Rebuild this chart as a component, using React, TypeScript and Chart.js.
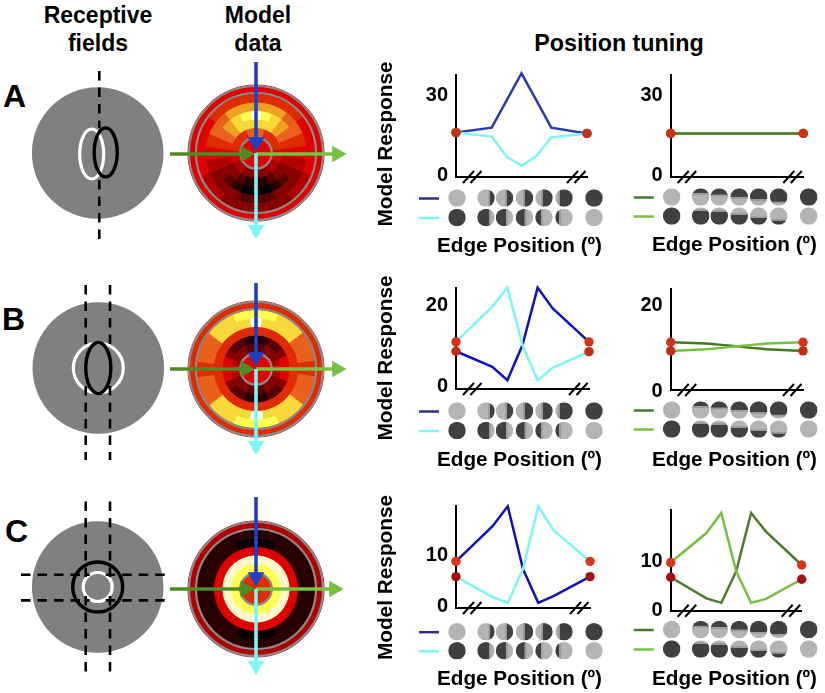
import React, { useEffect, useRef } from "react";
import { Chart, registerables } from "chart.js";

Chart.register(...registerables);

const FONT = '"Liberation Sans", Arial, sans-serif';

// ---------- Position tuning data ----------
const edgePositions = [-2.2, -1, -0.5, 0, 0.5, 1, 2.2];
const aBlue = [15.9, 17.75, 28, 38.1, 28, 17.75, 15.6];
const aCyan = [15.9, 14.4, 6.9, 3.5, 7.1, 14.1, 15.6];
const aDarkGreen = [15.6, 15.6, 15.6, 15.6, 15.6, 15.6, 15.6];
const aLightGreen = [15.6, 15.6, 15.6, 15.6, 15.6, 15.6, 15.6];
const bBlue = [8.7, 4.9, 1.6, 10.2, 24.3, 19.2, 11];
const bCyan = [11, 19.6, 24.3, 10.2, 1.6, 4.65, 8.6];
const bDarkGreen = [11.5, 11.2, 10.9, 10.6, 10.2, 9.9, 9.5];
const bLightGreen = [9.5, 9.9, 10.2, 10.6, 10.9, 11.2, 11.5];
const cBlue = [8.9, 15.8, 19.7, 7.4, 0.77, 2.06, 5.9];
const cCyan = [5.9, 1.9, 0.77, 7.4, 19.7, 15, 8.9];
const cDarkGreen = [6.8, 2.5, 1.6, 8, 19.9, 16.1, 9.3];
const cLightGreen = [9.8, 15.8, 19.9, 8, 1.6, 2.4, 6.4];

// edge location across each disc, as a share of its diameter
const verticalEdgesTop = [0.72, 0.62, 0.5, 0.42, 0.25];
const verticalEdgesBottom = [0.7, 0.6, 0.52, 0.35, 0.25];
const horizontalEdgesTop = [0.3, 0.38, 0.52, 0.65, 0.78];
const horizontalEdgesBottom = [0.2, 0.25, 0.42, 0.6, 0.75];

// ---------- Model data heat levels: rings outer to inner, sectors clockwise from top ----------
const heatPalette = ["#000000", "#280000", "#580000", "#860000", "#b00000", "#e00000", "#e02a00", "#e8601a", "#f0a020", "#f8d838", "#ffff50", "#ffffff", "#fff8c8"];
const heatA = [
  [5,5,5,5,5,5,5,5,5,5,5,5,5,5,5,5,5,5,5,5,5,5,5,5],
  [6,6,6,6,5,5,5,5,4,4,3,3,3,3,3,4,4,5,5,5,5,6,6,6],
  [8,8,8,7,7,6,5,4,3,3,3,2,2,2,3,3,3,4,5,6,7,7,8,8],
  [11,10,9,8,7,6,5,4,3,2,1,0,0,0,1,2,3,4,5,6,7,8,9,10],
  [9,9,9,8,7,6,5,4,3,3,2,1,1,1,2,3,3,4,5,6,7,8,9,9],
  [7,7,6,6,6,6,5,5,4,4,3,3,3,3,3,4,4,5,5,6,6,6,6,7],
  [5,5,5,5,5,5,5,5,5,5,5,5,5,5,5,5,5,5,5,5,5,5,5,5],
  [5,5,5,5,5,5,5,5,5,5,5,5,5,5,5,5,5,5,5,5,5,5,5,5],
];
const heatB = [
  [6,6,6,6,6,6,6,6,6,6,6,6,6,6,6,6,6,6,6,6,6,6,6,6],
  [10,10,9,9,7,7,6,7,7,9,9,10,10,10,9,9,7,7,6,7,7,9,9,10],
  [11,9,9,9,7,7,6,7,7,9,9,9,11,9,9,9,7,7,6,7,7,9,9,9],
  [6,6,6,6,6,6,6,6,6,6,6,6,6,6,6,6,6,6,6,6,6,6,6,6],
  [1,1,2,2,3,5,5,5,3,2,2,1,1,1,2,2,3,5,5,5,3,2,2,1],
  [2,2,3,3,3,4,5,4,3,3,3,2,2,2,3,3,3,4,5,4,3,3,3,2],
  [5,5,5,5,5,5,5,5,5,5,5,5,5,5,5,5,5,5,5,5,5,5,5,5],
  [5,5,5,5,5,5,5,5,5,5,5,5,5,5,5,5,5,5,5,5,5,5,5,5],
];
const heatC = [
  [4,4,4,4,4,4,4,4,4,4,4,4,4,4,4,4,4,4,4,4,4,4,4,4],
  [1,1,1,1,1,1,1,1,1,1,1,1,1,1,1,1,1,1,1,1,1,1,1,1],
  [0,0,1,1,1,1,1,1,1,1,1,0,0,0,1,1,1,1,1,1,1,1,1,0],
  [5,5,5,5,5,5,5,5,5,5,5,5,5,5,5,5,5,5,5,5,5,5,5,5],
  [11,12,12,12,12,12,12,12,12,12,12,12,11,12,12,12,12,12,12,12,12,12,12,12],
  [10,10,10,10,10,10,10,10,10,10,10,10,10,10,10,10,10,10,10,10,10,10,10,10],
  [6,6,6,6,6,6,6,6,6,6,6,6,6,6,6,6,6,6,6,6,6,6,6,6],
  [6,6,6,6,6,6,6,6,6,6,6,6,6,6,6,6,6,6,6,6,6,6,6,6],
];
const heatGreyRings = [67, 60, 15.7];

// ---------- Arrows: [start, head centre] relative to the map centre ----------
const arrowsA = { blue: [[0, 91], [0, 11]], cyan: [[0, 0], [0, -76.5]], dark: [[-86, -1], [-10.5, -1]], light: [[0, -1], [81, -1]] };
const arrowsB = { blue: [[0, 86], [0, 12]], cyan: [[0, 0], [0, -76.5]], dark: [[-86, 0], [-10.5, 0]], light: [[0, 0], [81, 0]] };
const arrowsC = { blue: [[0, 92], [0, 12]], cyan: [[0, 0], [0, -76.5]], dark: [[-86, 0], [-10.5, 0]], light: [[0, 0], [78, 0]] };

// ---------- Receptive fields ----------
const rfA = { white: [[-6, -1, 12, 25]], black: [[8, 0.6, 11.5, 24.5]], dashes: [[[1.6, 82], [1.6, 25]], [[1.6, -27], [1.6, -93]]] };
const rfB = { white: [[0, 0, 25, 25]], black: [[0, 0, 12.5, 25.5]], dashes: [[[-12.6, 83], [-12.6, 18]], [[-12.6, -18], [-12.6, -92]], [[11.7, 83], [11.7, 18]], [[11.7, -18], [11.7, -92]]] };
const rfC = {
  white: [[0, 0, 14.5, 14.5]],
  black: [[0, 0, 25, 25]],
  dashes: [
    [[-12, 85.6], [-12, 9]], [[-12, -9], [-12, -89]], [[12.3, 85.6], [12.3, 9]], [[12.3, -9], [12.3, -89]],
    [[-76.7, 12.3], [-8, 12.3]], [[8, 12.3], [74, 12.3]], [[-76.7, -13.4], [-8, -13.4]], [[8, -13.4], [74, -13.4]],
  ],
};

// ---------- Layout ----------
const stimulusOffsets = [1, 30, 48.5, 68.5, 88, 108, 138];
const tuningPanels = [
  { left: 376, top: 30, width: 254, height: 228, plot: [456, 75, 587, 177], y: [-0.75, 37.5], ticks: [0, 30], series: [aBlue, aCyan], colors: ["#2a3cb0", "#7ff5f5"], discY: [198, 217.5], mode: "v", ends: ["#bb361a", "#bb361a"], legend: ["#30308c", "#7ff5f5"], xLabel: [519.5, 246], yLabel: [386.7, 144] },
  { left: 630, top: 30, width: 195, height: 228, plot: [670.7, 75, 803.3, 177], y: [-0.75, 37.5], ticks: [0, 30], series: [aLightGreen, aDarkGreen], colors: ["#77c044", "#4f7c2c"], discY: [197, 216], mode: "h", ends: ["#d03014", "#d03014"], legend: ["#4a7a2a", "#77c044"], xLabel: [734.5, 245], yLabel: null },
  { left: 376, top: 244, width: 254, height: 228, plot: [456, 288, 589, 389], y: [-0.56, 24.2], ticks: [0, 20], series: [bBlue, bCyan], colors: ["#1010c8", "#7ff5f5"], discY: [411, 430.5], mode: "v", ends: ["#d4301a", "#c42c10"], legend: ["#30308c", "#7ff5f5"], xLabel: [519.5, 460.7], yLabel: [386.7, 358] },
  { left: 630, top: 244, width: 195, height: 228, plot: [670.7, 289, 803, 390], y: [0.4, 23.9], ticks: [0, 20], series: [bDarkGreen, bLightGreen], colors: ["#3f7a22", "#77c044"], discY: [410, 429], mode: "h", ends: ["#d4301a", "#c42c10"], legend: ["#4a7a2a", "#77c044"], xLabel: [734.5, 460.7], yLabel: null },
  { left: 376, top: 464, width: 254, height: 227, plot: [456, 506, 590, 608], y: [-0.25, 19.75], ticks: [0, 10], series: [cBlue, cCyan], colors: ["#1010c0", "#7ff5f5"], discY: [631.7, 650.7], mode: "v", ends: ["#dd3318", "#a81010"], legend: ["#30308c", "#7ff5f5"], xLabel: [519.5, 679], yLabel: [386.7, 577.5] },
  { left: 630, top: 464, width: 195, height: 227, plot: [670.7, 510, 801.7, 610.7], y: [0, 20.5], ticks: [0, 10], series: [cDarkGreen, cLightGreen], colors: ["#4f7c2c", "#77c044"], discY: [629.5, 649], mode: "h", ends: ["#dd3318", "#a81010"], legend: ["#4a7a2a", "#77c044"], xLabel: [734.5, 679], yLabel: null },
];
const mapPanels = [
  { heat: heatA, arrows: arrowsA, cx: 256, cy: 153.3 },
  { heat: heatB, arrows: arrowsB, cx: 256, cy: 369 },
  { heat: heatC, arrows: arrowsC, cx: 256, cy: 589 },
];
const rfPanels = [
  { rf: rfA, cx: 97.7, cy: 153.3 },
  { rf: rfB, cx: 98.3, cy: 368.3 },
  { rf: rfC, cx: 97.7, cy: 587.3 },
];
const labels = [
  { text: "A", x: 3, y: 78 },
  { text: "B", x: 2, y: 301 },
  { text: "C", x: 5, y: 513 },
];

function ChartCanvas({ left, top, width, height, make }: any) {
  const ref = useRef<HTMLCanvasElement>(null);
  useEffect(() => {
    const chart = new Chart(ref.current as any, make());
    return () => chart.destroy();
  }, []);
  return <canvas ref={ref} width={width} height={height} style={{ position: "absolute", left, top, width, height }} />;
}

function drawDisc(ctx: any, x: number, y: number, r: number, mode: string, first: boolean, edge: number | null) {
  const LIGHT = "#b4b4b4";
  const DARK = "#404040";
  ctx.save();
  ctx.beginPath();
  ctx.arc(x, y, r, 0, Math.PI * 2);
  ctx.clip();
  if (edge === null) {
    ctx.fillStyle = first ? LIGHT : DARK;
    ctx.fillRect(x - r, y - r, r * 2, r * 2);
  } else if (mode === "v") {
    const ex = x - r + edge * 2 * r;
    ctx.fillStyle = first ? LIGHT : DARK;
    ctx.fillRect(x - r, y - r, ex - (x - r), r * 2);
    ctx.fillStyle = first ? DARK : LIGHT;
    ctx.fillRect(ex, y - r, x + r - ex, r * 2);
    ctx.fillStyle = "#9a9a9a";
    ctx.fillRect(first ? ex - 1.5 : ex, y - r, 1.5, r * 2);
  } else {
    const ey = y - r + edge * 2 * r;
    ctx.fillStyle = first ? DARK : LIGHT;
    ctx.fillRect(x - r, y - r, r * 2, ey - (y - r));
    ctx.fillStyle = first ? LIGHT : DARK;
    ctx.fillRect(x - r, ey, r * 2, y + r - ey);
    ctx.fillStyle = "#9a9a9a";
    ctx.fillRect(x - r, first ? ey : ey - 1.5, r * 2, 1.5);
  }
  ctx.restore();
}

function tuningConfig(p: any) {
  const [pl, pt, pr, pb] = p.plot;
  const canvasRight = p.left + p.width;
  const canvasBottom = p.top + p.height;
  const [s0, s1] = p.series;
  const pts = (vals: number[]) => vals.map((y: number, i: number) => ({ x: edgePositions[i], y }));
  const last = edgePositions.length - 1;
  const ends = [0, last];
  const hi = ends.map((i) => ({ x: edgePositions[i], y: Math.max(s0[i], s1[i]) }));
  const lo = ends.map((i) => ({ x: edgePositions[i], y: Math.min(s0[i], s1[i]) }));
  const extras = {
    id: "stimuli",
    afterDraw(chart: any) {
      const ctx = chart.ctx;
      const a = chart.chartArea;
      // axis breaks
      ctx.save();
      ctx.strokeStyle = "#000";
      ctx.lineWidth = 2;
      [[a.left + 7, a.left + 14.5], [a.right - 20, a.right - 12.5]].forEach((pair: number[]) => {
        pair.forEach((bx) => {
          ctx.beginPath();
          ctx.moveTo(bx, a.bottom + 6);
          ctx.lineTo(bx + 11, a.bottom - 6);
          ctx.stroke();
        });
      });
      // legend dashes
      const lx = a.left - 37;
      [0, 1].forEach((row) => {
        const y = p.discY[row] + 0.5 - p.top;
        ctx.strokeStyle = p.legend[row];
        ctx.lineWidth = 2.5;
        ctx.beginPath();
        ctx.moveTo(lx, y);
        ctx.lineTo(lx + 20, y);
        ctx.stroke();
      });
      // axis titles
      ctx.fillStyle = "#000";
      ctx.textAlign = "center";
      ctx.textBaseline = "middle";
      ctx.font = `bold 20.7px ${FONT}`;
      ctx.fillText("Edge Position (º)", p.xLabel[0] - p.left, p.xLabel[1] - p.top);
      if (p.yLabel) {
        ctx.translate(p.yLabel[0] - p.left, p.yLabel[1] - p.top);
        ctx.rotate(-Math.PI / 2);
        ctx.font = `bold 20.8px ${FONT}`;
        ctx.fillText("Model Response", 0, 0);
      }
      ctx.restore();
      // stimulus discs
      const edges = p.mode === "v" ? [verticalEdgesTop, verticalEdgesBottom] : [horizontalEdgesTop, horizontalEdgesBottom];
      [0, 1].forEach((row) => {
        stimulusOffsets.forEach((off, i) => {
          const x = a.left + off;
          const y = p.discY[row] - p.top;
          if (i === 0) drawDisc(ctx, x, y, 8.8, p.mode, row === 0, null);
          else if (i === 6) drawDisc(ctx, x, y, 8.8, p.mode, row === 1, null);
          else drawDisc(ctx, x, y, 8.8, p.mode, row === 0, edges[row][i - 1]);
        });
      });
    },
  };
  return {
    type: "scatter",
    plugins: [extras],
    data: {
      datasets: [
        { data: hi, pointRadius: 4.7, pointBackgroundColor: p.ends[0], pointBorderWidth: 0, showLine: false, order: 1, clip: false },
        { data: lo, pointRadius: 4.7, pointBackgroundColor: p.ends[1], pointBorderWidth: 0, showLine: false, order: 1, clip: false },
        { data: pts(s1), borderColor: p.colors[1], borderWidth: 2.5, pointRadius: 0, showLine: true, tension: 0, order: 2, clip: false },
        { data: pts(s0), borderColor: p.colors[0], borderWidth: 2.5, pointRadius: 0, showLine: true, tension: 0, order: 3, clip: false },
      ],
    },
    options: {
      animation: false,
      responsive: false,
      events: [],
      layout: { autoPadding: false, padding: { top: pt - p.top, right: canvasRight - pr, left: 0, bottom: 0 } },
      plugins: { legend: { display: false }, tooltip: { enabled: false } },
      scales: {
        x: {
          type: "linear",
          min: -2.2,
          max: 2.2,
          grid: { display: false, drawTicks: false, tickLength: 0 },
          border: { color: "#000", width: 2 },
          ticks: { display: false },
          afterFit: (s: any) => {
            s.height = canvasBottom - pb;
          },
        },
        y: {
          type: "linear",
          min: p.y[0],
          max: p.y[1],
          grid: { display: false, drawTicks: false, tickLength: 0 },
          border: { color: "#000", width: 2 },
          afterBuildTicks: (s: any) => {
            s.ticks = p.ticks.map((value: number) => ({ value }));
          },
          ticks: { color: "#000", padding: 8, autoSkip: false, font: { family: FONT, size: 20, weight: "bold" } },
          afterFit: (s: any) => {
            s.width = pl - p.left;
          },
        },
      },
    },
  };
}

function heatConfig(m: any) {
  const rings = {
    id: "greyRings",
    afterDatasetsDraw(chart: any) {
      const ctx = chart.ctx;
      const a = chart.chartArea;
      const x = (a.left + a.right) / 2;
      const y = (a.top + a.bottom) / 2;
      ctx.save();
      ctx.strokeStyle = "#8a8a8a";
      ctx.lineWidth = 2.2;
      heatGreyRings.forEach((r) => {
        ctx.beginPath();
        ctx.arc(x, y, r, 0, Math.PI * 2);
        ctx.stroke();
      });
      ctx.restore();
    },
  };
  return {
    type: "doughnut",
    plugins: [rings],
    data: {
      datasets: m.heat.map((row: number[]) => ({
        data: row.map(() => 1),
        backgroundColor: row.map((v) => heatPalette[v]),
        borderColor: row.map((v) => heatPalette[v]),
        borderWidth: 1,
        borderAlign: "center",
      })),
    },
    options: {
      animation: false,
      responsive: false,
      events: [],
      cutout: 0,
      radius: 68,
      rotation: -7.5,
      plugins: { legend: { display: false }, tooltip: { enabled: false } },
    },
  };
}

function arrowConfig(m: any) {
  const make = (seg: number[][], color: string, rot: number, order: number) => ({
    data: seg.map(([x, y]) => ({ x, y })),
    showLine: true,
    borderColor: color,
    borderWidth: 3.6,
    borderCapStyle: "butt",
    pointStyle: "triangle",
    pointRadius: [0, 9.6],
    pointRotation: [0, rot],
    pointBackgroundColor: color,
    pointBorderWidth: 0,
    order,
    clip: false,
  });
  const a = m.arrows;
  return {
    type: "scatter",
    data: {
      datasets: [
        make(a.cyan, "#7ff5f5", 180, 1),
        make(a.blue, "#2040c0", 180, 2),
        make(a.light, "#78c040", 90, 3),
        make(a.dark, "#4f8a24", 90, 4),
      ],
    },
    options: {
      animation: false,
      responsive: false,
      events: [],
      layout: { autoPadding: false },
      plugins: { legend: { display: false }, tooltip: { enabled: false } },
      scales: {
        x: { type: "linear", display: false, min: -96, max: 104 },
        y: { type: "linear", display: false, min: -100, max: 100 },
      },
    },
  };
}

function rfConfig(m: any) {
  const fields = {
    id: "fields",
    beforeDatasetsDraw(chart: any) {
      const ctx = chart.ctx;
      const X = chart.scales.x;
      const Y = chart.scales.y;
      const ell = (e: number[]) => {
        ctx.beginPath();
        ctx.ellipse(X.getPixelForValue(e[0]), Y.getPixelForValue(e[1]), e[2], e[3], 0, 0, Math.PI * 2);
      };
      ctx.save();
      ctx.fillStyle = "#808080";
      ell([0, 0, 65.8, 65.8]);
      ctx.fill();
      ctx.lineWidth = 3.2;
      ctx.strokeStyle = "#ffffff";
      m.rf.white.forEach((e: number[]) => {
        ell(e);
        ctx.stroke();
      });
      ctx.strokeStyle = "#000000";
      ctx.lineWidth = 3.4;
      m.rf.black.forEach((e: number[]) => {
        ell(e);
        ctx.stroke();
      });
      ctx.restore();
    },
  };
  return {
    type: "scatter",
    plugins: [fields],
    data: {
      datasets: m.rf.dashes.map((seg: number[][]) => ({
        data: seg.map(([x, y]) => ({ x, y })),
        showLine: true,
        borderColor: "#000",
        borderWidth: 2.6,
        borderDash: [9.5, 7],
        pointRadius: 0,
        clip: false,
      })),
    },
    options: {
      animation: false,
      responsive: false,
      events: [],
      layout: { autoPadding: false },
      plugins: { legend: { display: false }, tooltip: { enabled: false } },
      scales: {
        x: { type: "linear", display: false, min: -m.cx, max: 185 - m.cx },
        y: { type: "linear", display: false, min: -100, max: 100 },
      },
    },
  };
}

const headStyle: any = {
  position: "absolute",
  fontFamily: FONT,
  fontWeight: "bold",
  fontSize: 23,
  lineHeight: "28px",
  textAlign: "center",
  color: "#000",
};

export default function App() {
  return (
    <div style={{ position: "absolute", left: 0, top: 0, width: 825, height: 693, overflow: "hidden", background: "#fff" }}>
      <div style={{ ...headStyle, left: 28, top: 1, width: 140 }}>Receptive<br />fields</div>
      <div style={{ ...headStyle, left: 188, top: 1, width: 140 }}>Model<br />data</div>
      <div style={{ ...headStyle, left: 517, top: 29, width: 204, fontSize: 23.3 }}>Position tuning</div>
      {labels.map((l) => (
        <div key={l.text} style={{ position: "absolute", left: l.x, top: l.y, fontFamily: FONT, fontWeight: "bold", fontSize: 32, lineHeight: "36px", color: "#000" }}>{l.text}</div>
      ))}
      {rfPanels.map((m, i) => (
        <ChartCanvas key={"rf" + i} left={0} top={m.cy - 100} width={185} height={200} make={() => rfConfig(m)} />
      ))}
      {mapPanels.map((m, i) => (
        <ChartCanvas key={"h" + i} left={m.cx - 70} top={m.cy - 70} width={140} height={140} make={() => heatConfig(m)} />
      ))}
      {mapPanels.map((m, i) => (
        <ChartCanvas key={"a" + i} left={m.cx - 96} top={m.cy - 100} width={200} height={200} make={() => arrowConfig(m)} />
      ))}
      {tuningPanels.map((p, i) => (
        <ChartCanvas key={"t" + i} left={p.left} top={p.top} width={p.width} height={p.height} make={() => tuningConfig(p)} />
      ))}
    </div>
  );
}
